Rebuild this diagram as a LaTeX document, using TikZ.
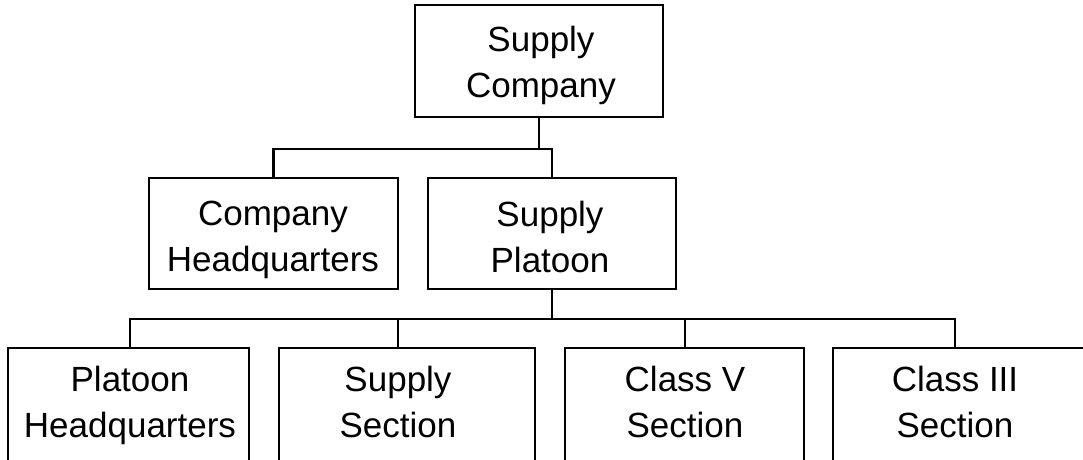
\documentclass[tikz,border=0pt]{standalone}
\usepackage{fontspec}
\setmainfont{Liberation Sans}
\usetikzlibrary{calc}

\tikzset{
  unit/.style={draw, line width=2.2pt, rectangle, inner sep=0pt},
  lbl/.style={anchor=north, inner sep=0pt, align=center,
              font=\fontsize{35}{45.5}\selectfont},
  wire/.style={line width=2.2pt, line cap=rect}
}

\begin{document}
\begin{tikzpicture}[x=1pt, y=-1pt]
  \useasboundingbox (0,0) rectangle (1083,459);
  \clip (0,0) rectangle (1083,459);

  % Company level
  \node[unit, minimum width=248pt, minimum height=112pt] (sc) at (539,61) {};
  \node[lbl] (sct) at (541,26) {Supply\\Company};

  % Second level
  \node[unit, minimum width=249pt, minimum height=111pt] (chq) at (273.5,233.5) {};
  \node[lbl] (chqt) at (273,201) {Company\\Headquarters};
  \node[unit, minimum width=248pt, minimum height=111pt] (sp) at (552,233.5) {};
  \node[lbl] (spt) at (550,201) {Supply\\Platoon};

  % Sections (lower edges run off the page)
  \node[unit, minimum width=241pt, minimum height=152pt] (b1) at (128.5,424) {};
  \node[lbl] (b1t) at (130,366) {Platoon\\Headquarters};
  \node[unit, minimum width=256pt, minimum height=152pt] (b2) at (407,424) {};
  \node[lbl] (b2t) at (398,366) {Supply\\Section};
  \node[unit, minimum width=239pt, minimum height=152pt] (b3) at (684.5,424) {};
  \node[lbl] (b3t) at (685,366) {Class V\\Section};
  \node[unit, minimum width=262pt, minimum height=152pt] (b4) at (964,424) {};
  \node[lbl] (b4t) at (955,366) {Class III\\Section};

  % Junction points of the tree lines
  \coordinate (j1) at ($(sc.south)+(0,31)$);
  \coordinate (j2) at ($(sp.south)+(0,29)$);

  % Company to second level
  \draw[wire] (sc.south) -- (j1);
  \draw[wire] (chq.north) |- (j1) -| (sp.north);

  % Platoon to sections
  \draw[wire] (sp.south) -- (j2);
  \draw[wire] (b1.north -| b1t) |- (j2) -| (b4.north -| b4t);
  \draw[wire] (b2.north -| b2t) -- (b2t |- j2);
  \draw[wire] (b3.north -| b3t) -- (b3t |- j2);
\end{tikzpicture}
\end{document}
